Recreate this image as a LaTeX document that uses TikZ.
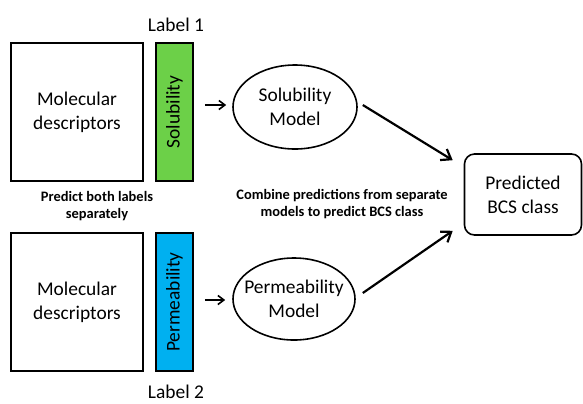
\documentclass[tikz,border=0pt]{standalone}
\usepackage{fontspec}
\setmainfont{Carlito}
\usetikzlibrary{arrows.meta,positioning,shapes.geometric}
\definecolor{solgreen}{RGB}{108,208,72}
\definecolor{permblue}{RGB}{0,176,240}
\tikzset{
  descbox/.style={draw=black, line width=1.6pt, minimum width=132bp, minimum height=138bp, align=center, font=\fontsize{19.5}{24}\selectfont},
  labelbar/.style={draw=black, line width=1.6pt, minimum width=138bp, minimum height=37bp, rotate=90, font=\fontsize{19.5}{24}\selectfont},
  model/.style={draw=black, line width=1.6pt, ellipse, align=center, font=\fontsize{19.5}{24}\selectfont, inner sep=0pt},
  plain/.style={font=\fontsize{19.5}{24}\selectfont},
  note/.style={align=center, font=\fontsize{14.5}{17.5}\selectfont\bfseries},
  step arrow/.style={-{Straight Barb[length=6bp, width=9bp]}, line width=1.6pt},
  big arrow/.style={-{Straight Barb[length=9bp, width=13bp]}, line width=2.2pt}
}

\begin{document}
\begin{tikzpicture}[x=1bp, y=-1bp]
  \useasboundingbox (0,0) rectangle (583,403);

  % upper branch
  \node[descbox] (desc1) at (77,112) {Molecular\\descriptors};
  \node[labelbar, fill=solgreen] (sol) at (174.5,112) {Solubility};
  \node[plain] (lab1) at (176,25) {Label 1};
  \node[model, minimum width=124bp, minimum height=84bp] (solmodel) at (295,107) {Solubility\\Model};

  % lower branch
  \node[descbox] (desc2) at (77,302) {Molecular\\descriptors};
  \node[labelbar, fill=permblue] (perm) at (174.5,302) {Permeability};
  \node[plain] (lab2) at (176,392) {Label 2};
  \node[model, inner xsep=-11bp, minimum width=122bp, minimum height=82bp] (permmodel) at (294,299) {Permeability\\Model};

  % result
  \node[draw=black, line width=1.6pt, rounded corners=10bp, minimum width=117bp, minimum height=81bp, align=center, font=\fontsize{19.5}{24}\selectfont] (bcs) at (523,194.5) {Predicted\\BCS class};

  \node[note] (predict) at (97,206) {Predict both labels\\separately};
  \node[note] (combine) at (342,204) {Combine predictions from separate\\models to predict BCS class};

  \draw[step arrow] ([xshift=11bp,yshift=2bp]solmodel.west -| sol.south) -- ([xshift=-6bp,yshift=2bp]solmodel.west);
  \draw[step arrow] ([xshift=11bp,yshift=-1bp]permmodel.west -| perm.south) -- ([xshift=-7bp,yshift=-1bp]permmodel.west);
  \draw[big arrow] ([xshift=5bp,yshift=2bp]solmodel.east) -- ([xshift=-11bp,yshift=-7bp]bcs.north west);
  \draw[big arrow] ([xshift=7bp,yshift=6bp]permmodel.east) -- ([xshift=-11bp,yshift=5bp]bcs.south west);
\end{tikzpicture}
\end{document}
